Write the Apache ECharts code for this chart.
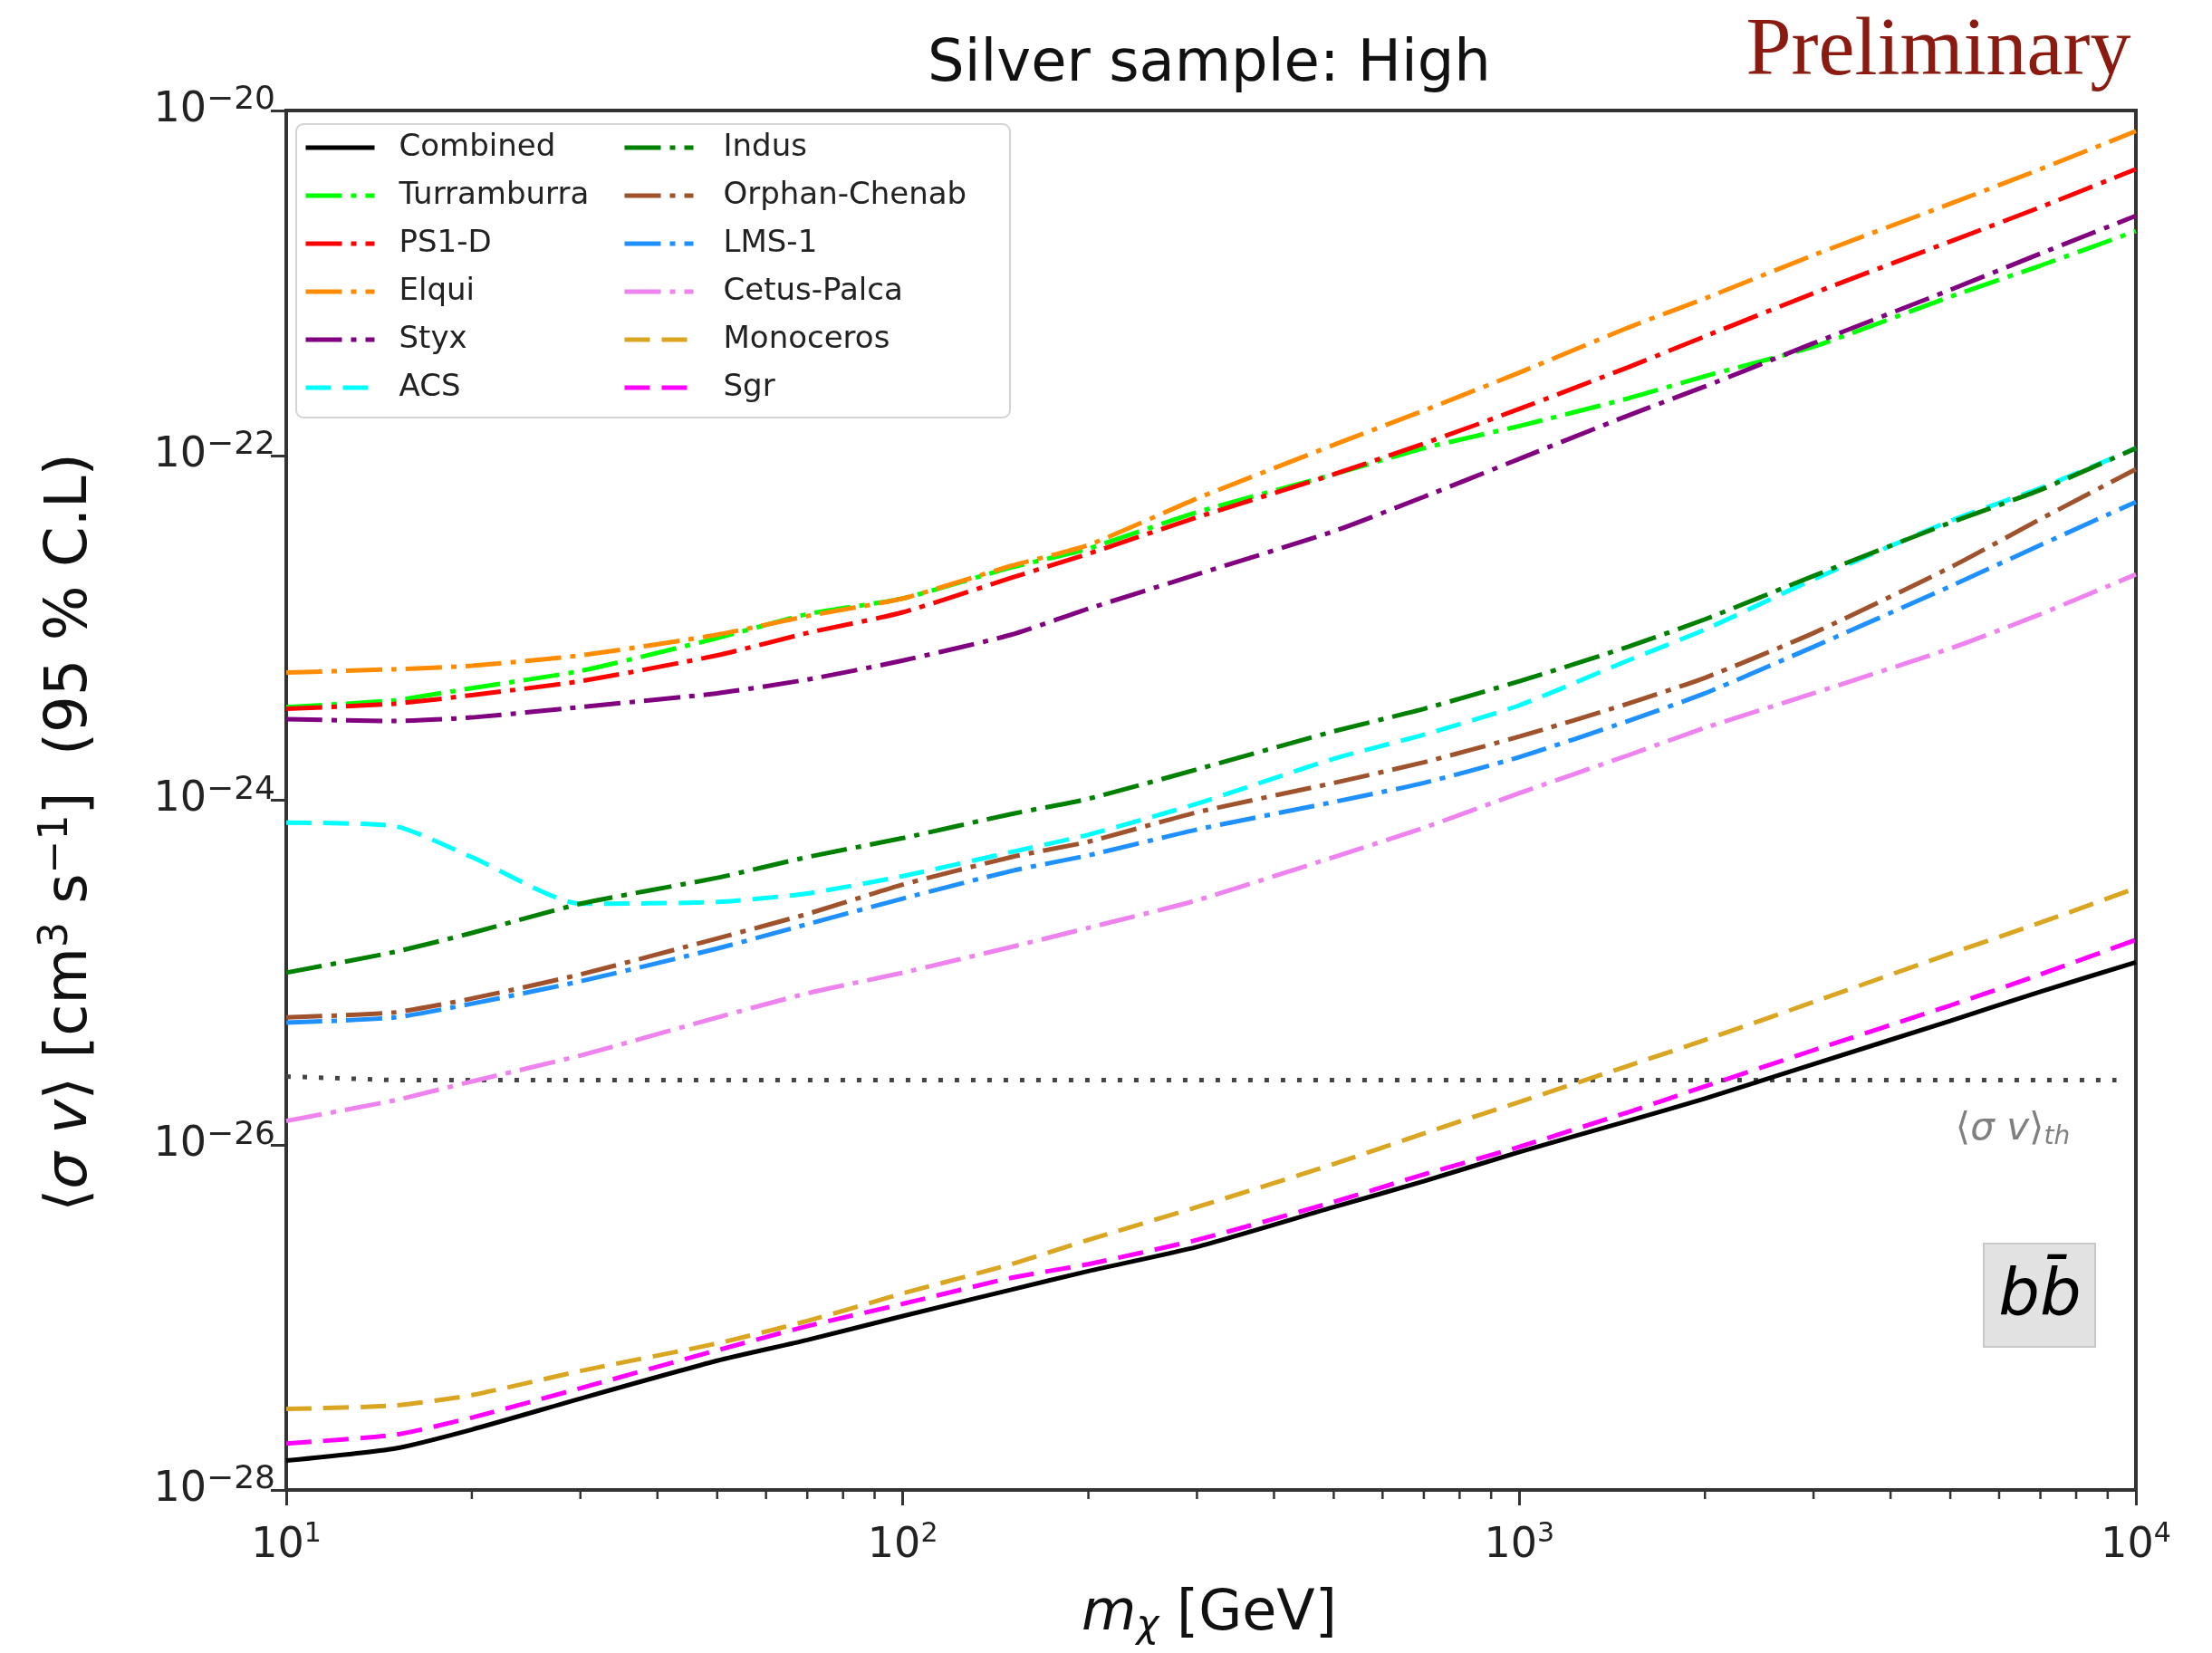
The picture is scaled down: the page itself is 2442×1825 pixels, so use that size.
<!DOCTYPE html>
<html>
<head>
<meta charset="utf-8">
<script src="https://cdn.jsdelivr.net/npm/echarts@6/dist/echarts.min.js"></script>
<style>
	html, body { margin: 0; padding: 0; background: #fff; }
	#chart { width: 2442px; height: 1825px; }
</style>
</head>
<body>
<div id="chart"></div>
<script>
// dark matter mass [GeV]
var mass = [10, 15, 20, 30, 50, 70, 100, 150, 200, 300, 500, 700, 1000, 1500, 2000, 3000, 5000, 7000, 10000];

// <sigma v> upper limits [cm^3 s^-1], 95% C.L.
var combined = [1.48e-28, 1.74e-28, 2.24e-28, 3.39e-28, 5.62e-28, 7.41e-28, 1.02e-27, 1.45e-27, 1.86e-27, 2.57e-27, 4.37e-27, 6.17e-27, 9.12e-27, 1.38e-26, 1.86e-26, 2.95e-26, 5.25e-26, 7.76e-26, 1.15e-25];
var turramburra = [3.47e-24, 3.80e-24, 4.47e-24, 5.62e-24, 8.71e-24, 1.20e-23, 1.48e-23, 2.24e-23, 2.88e-23, 4.68e-23, 7.76e-23, 1.10e-22, 1.48e-22, 2.14e-22, 2.88e-22, 4.27e-22, 8.32e-22, 1.26e-21, 2.00e-21];
var ps1d = [3.39e-24, 3.63e-24, 4.07e-24, 4.90e-24, 6.92e-24, 9.33e-24, 1.23e-23, 1.95e-23, 2.69e-23, 4.37e-23, 7.76e-23, 1.17e-22, 1.86e-22, 3.24e-22, 4.90e-22, 8.71e-22, 1.74e-21, 2.75e-21, 4.57e-21];
var elqui = [5.50e-24, 5.75e-24, 6.03e-24, 6.92e-24, 9.12e-24, 1.17e-23, 1.48e-23, 2.29e-23, 3.02e-23, 5.62e-23, 1.15e-22, 1.82e-22, 3.02e-22, 5.50e-22, 8.13e-22, 1.45e-21, 2.88e-21, 4.57e-21, 7.59e-21];
var styx = [2.95e-24, 2.88e-24, 3.02e-24, 3.47e-24, 4.17e-24, 5.01e-24, 6.46e-24, 9.12e-24, 1.29e-23, 2.04e-23, 3.63e-23, 5.75e-23, 9.55e-23, 1.70e-22, 2.51e-22, 4.47e-22, 9.12e-22, 1.48e-21, 2.45e-21];
var acs = [7.41e-25, 7.08e-25, 4.68e-25, 2.51e-25, 2.57e-25, 2.88e-25, 3.63e-25, 5.01e-25, 6.31e-25, 9.55e-25, 1.74e-24, 2.40e-24, 3.55e-24, 6.46e-24, 9.77e-24, 1.91e-23, 4.17e-23, 6.46e-23, 1.10e-22];
var indus = [1.00e-25, 1.32e-25, 1.70e-25, 2.51e-25, 3.55e-25, 4.68e-25, 6.03e-25, 8.32e-25, 1.02e-24, 1.51e-24, 2.51e-24, 3.39e-24, 4.90e-24, 7.76e-24, 1.12e-23, 2.00e-23, 4.07e-23, 6.31e-23, 1.10e-22];
var orphanChenab = [5.50e-26, 5.89e-26, 7.08e-26, 9.77e-26, 1.58e-25, 2.19e-25, 3.24e-25, 4.68e-25, 5.75e-25, 8.51e-25, 1.26e-24, 1.66e-24, 2.34e-24, 3.63e-24, 5.13e-24, 9.33e-24, 2.24e-23, 4.27e-23, 8.32e-23];
var lms1 = [5.13e-26, 5.50e-26, 6.61e-26, 8.91e-26, 1.38e-25, 1.91e-25, 2.69e-25, 3.89e-25, 4.79e-25, 6.76e-25, 9.77e-25, 1.26e-24, 1.78e-24, 2.88e-24, 4.17e-24, 7.76e-24, 1.74e-23, 3.02e-23, 5.37e-23];
var cetusPalca = [1.38e-26, 1.82e-26, 2.34e-26, 3.31e-26, 5.50e-26, 7.59e-26, 1.00e-25, 1.41e-25, 1.82e-25, 2.63e-25, 4.68e-25, 6.92e-25, 1.10e-24, 1.82e-24, 2.63e-24, 4.17e-24, 7.59e-24, 1.20e-23, 2.04e-23];
var monoceros = [2.95e-28, 3.09e-28, 3.55e-28, 4.90e-28, 7.08e-28, 9.55e-28, 1.38e-27, 2.04e-27, 2.82e-27, 4.37e-27, 7.76e-27, 1.17e-26, 1.78e-26, 2.88e-26, 4.07e-26, 6.76e-26, 1.29e-25, 1.95e-25, 3.09e-25];
var sgr = [1.86e-28, 2.09e-28, 2.63e-28, 3.89e-28, 6.46e-28, 8.91e-28, 1.20e-27, 1.70e-27, 2.04e-27, 2.82e-27, 4.68e-27, 6.76e-27, 9.77e-27, 1.55e-26, 2.19e-26, 3.55e-26, 6.46e-26, 9.77e-26, 1.55e-25];

// thermal relic cross section (dotted line)
var thermalMass = [10, 15, 9300];
var thermalValue = [2.5e-26, 2.38e-26, 2.38e-26];

// axis range and ticks
var yMin = 1e-28;
var yMax = 1e-20;
var minorTicks = [20, 30, 40, 50, 60, 70, 80, 90, 200, 300, 400, 500, 600, 700, 800, 900, 2000, 3000, 4000, 5000, 6000, 7000, 8000, 9000];

var legendCol1 = ['Combined', 'Turramburra', 'PS1-D', 'Elqui', 'Styx', 'ACS'];
var legendCol2 = ['Indus', 'Orphan-Chenab', 'LMS-1', 'Cetus-Palca', 'Monoceros', 'Sgr'];

// echarts 6 log scale rounds values this small to 0, so the y axis works in units of 1e-28
var Y_UNIT = 1e-28;
var Y_UNIT_EXP = -28;

var FONT = 'DejaVu Sans';
var DASHDOT = [40, 10, 6, 10];
var DASHED = [28, 13];

function pairs(xs, ys) {
	return xs.map(function (x, i) {
		return [x, ys[i] / Y_UNIT];
	});
}

function limitLine(name, ys, color, dash) {
	return {
		name: name,
		type: 'line',
		data: pairs(mass, ys),
		symbol: 'none',
		showSymbol: false,
		smooth: 0.2,
		lineStyle: { color: color, width: 5, type: dash, cap: 'butt' },
		itemStyle: { color: color },
		emphasis: { disabled: true }
	};
}

var chart = echarts.init(document.getElementById('chart'));

var series = [
	limitLine('Combined', combined, '#000000', 'solid'),
	limitLine('Turramburra', turramburra, '#00ff00', DASHDOT),
	limitLine('PS1-D', ps1d, '#ff0000', DASHDOT),
	limitLine('Elqui', elqui, '#ff8c00', DASHDOT),
	limitLine('Styx', styx, '#800080', DASHDOT),
	limitLine('ACS', acs, '#00ffff', DASHED),
	limitLine('Indus', indus, '#008000', DASHDOT),
	limitLine('Orphan-Chenab', orphanChenab, '#a0522d', DASHDOT),
	limitLine('LMS-1', lms1, '#1e90ff', DASHDOT),
	limitLine('Cetus-Palca', cetusPalca, '#ee82ee', DASHDOT),
	limitLine('Monoceros', monoceros, '#daa520', DASHED),
	limitLine('Sgr', sgr, '#ff00ff', DASHED),
	{
		name: 'thermal',
		type: 'line',
		data: pairs(thermalMass, thermalValue),
		symbol: 'none',
		lineStyle: { color: '#444444', width: 5, type: [5, 13], cap: 'butt' },
		emphasis: { disabled: true },
		z: 1
	},
	{
		// matplotlib style minor ticks (2..9 per decade)
		type: 'custom',
		silent: true,
		clip: false,
		z: 5,
		data: minorTicks.map(function (v) { return [v, yMin / Y_UNIT]; }),
		renderItem: function (params, api) {
			var p = api.coord([api.value(0), api.value(1)]);
			return {
				type: 'line',
				shape: { x1: p[0], y1: p[1], x2: p[0], y2: p[1] + 10 },
				style: { stroke: '#333', lineWidth: 2.5 }
			};
		}
	}
];

function legendOpt(names, left, pad) {
	return {
		data: names,
		orient: 'vertical',
		left: left,
		top: 146,
		padding: 0,
		itemWidth: 76,
		itemHeight: 2,
		itemGap: 19,
		selectedMode: false,
		itemStyle: { opacity: 0 },
		lineStyle: { width: 5 },
		textStyle: { fontFamily: FONT, fontSize: 34, color: '#222', lineHeight: 34, padding: [0, 0, 0, pad] }
	};
}

var option = {
	animation: false,
	backgroundColor: '#ffffff',
	grid: {
		left: 316, right: 84, top: 122, bottom: 180,
		show: true, borderColor: '#333', borderWidth: 4, backgroundColor: 'transparent'
	},
	legend: [legendOpt(legendCol1, 335, 22), legendOpt(legendCol2, 687, 28)],
	xAxis: {
		type: 'log',
		logBase: 10,
		min: 10,
		max: 10000,
		axisLine: { show: false },
		axisTick: { show: true, length: 17, lineStyle: { color: '#333', width: 3 } },
		splitLine: { show: false },
		axisLabel: {
			margin: 34,
			color: '#222',
			formatter: function (v) {
				var e = Math.round(Math.log10(v));
				return '{b|10}{s|' + e + '}';
			},
			rich: {
				b: { fontFamily: FONT, fontSize: 46, color: '#222' },
				s: { fontFamily: FONT, fontSize: 30, color: '#222', padding: [0, 0, 26, 0] }
			}
		}
	},
	yAxis: {
		type: 'log',
		logBase: 10,
		min: yMin / Y_UNIT,
		max: yMax / Y_UNIT,
		interval: 2,
		axisLine: { show: false },
		axisTick: { show: true, length: 17, lineStyle: { color: '#333', width: 3 } },
		splitLine: { show: false },
		axisLabel: {
			margin: 12,
			color: '#222',
			formatter: function (v) {
				var e = Math.round(Math.log10(v)) + Y_UNIT_EXP;
				if (e % 2 !== 0) return '';
				return '{b|10}{s|\u2212' + (-e) + '}';
			},
			rich: {
				b: { fontFamily: FONT, fontSize: 46, color: '#222' },
				s: { fontFamily: FONT, fontSize: 36, color: '#222', padding: [0, 0, 22, 0] }
			}
		}
	},
	graphic: [
		{
			// legend frame
			type: 'rect',
			z: 0,
			shape: { x: 327, y: 137, width: 788, height: 324, r: 8 },
			style: { fill: 'rgba(255,255,255,0.85)', stroke: '#d4d4d4', lineWidth: 2 }
		},
		{
			type: 'text',
			x: 1335, y: 72,
			style: {
				text: 'Silver sample: High',
				fontFamily: FONT, fontSize: 64, fill: '#111',
				align: 'center', verticalAlign: 'middle'
			}
		},
		{
			type: 'text',
			x: 2140, y: 58,
			style: {
				text: 'Preliminary',
				fontFamily: 'Liberation Serif', fontSize: 90, fill: '#8b1a10',
				align: 'center', verticalAlign: 'middle'
			}
		},
		{
			// y axis title
			type: 'text',
			x: 78, y: 919,
			rotation: Math.PI / 2,
			style: {
				text: '\u27e8{i|\u03c3 v}\u27e9 [cm{s|3} s{s|\u22121}]  (95 % C.L)',
				fontFamily: FONT, fontSize: 64, fill: '#111',
				align: 'center', verticalAlign: 'middle',
				rich: {
					i: { fontFamily: FONT, fontSize: 64, fontStyle: 'italic', fill: '#111' },
					s: { fontFamily: FONT, fontSize: 44, fill: '#111', padding: [0, 0, 30, 0] }
				}
			}
		},
		{
			// x axis title
			type: 'text',
			x: 1335, y: 1783,
			style: {
				text: '{i|m}{sub|\u03c7} [GeV]',
				fontFamily: FONT, fontSize: 62, fill: '#111',
				align: 'center', verticalAlign: 'middle',
				rich: {
					i: { fontFamily: FONT, fontSize: 62, fontStyle: 'italic', fill: '#111' },
					sub: { fontFamily: FONT, fontSize: 42, fontStyle: 'italic', fill: '#111', padding: [26, 0, 0, 0] }
				}
			}
		},
		{
			// thermal relic label
			type: 'text',
			x: 2222, y: 1247,
			style: {
				text: '\u27e8{i|\u03c3 v}\u27e9{sub|th}',
				fontFamily: FONT, fontSize: 42, fill: '#808080',
				align: 'center', verticalAlign: 'middle',
				rich: {
					i: { fontFamily: FONT, fontSize: 42, fontStyle: 'italic', fill: '#808080' },
					sub: { fontFamily: FONT, fontSize: 28, fontStyle: 'italic', fill: '#808080', padding: [18, 0, 0, 0] }
				}
			}
		},
		{
			// annihilation channel box
			type: 'rect',
			shape: { x: 2190, y: 1373, width: 123, height: 114 },
			style: { fill: '#e2e2e2', stroke: '#c8c8c8', lineWidth: 2 }
		},
		{
			type: 'text',
			x: 2252, y: 1432,
			style: {
				text: 'bb\u0304',
				fontFamily: FONT, fontSize: 72, fontStyle: 'italic', fill: '#000',
				align: 'center', verticalAlign: 'middle'
			}
		}
	],
	series: series
};

chart.setOption(option);
</script>
</body>
</html>
